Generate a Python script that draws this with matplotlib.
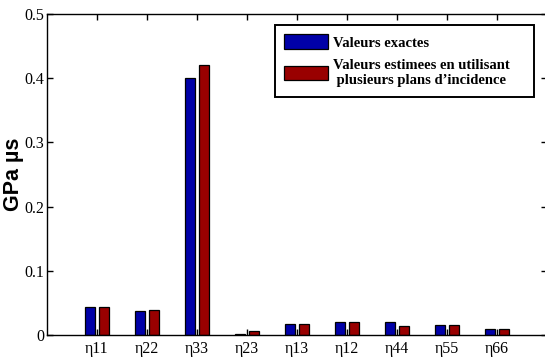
import numpy as np
import matplotlib
matplotlib.use("Agg")
import matplotlib.pyplot as plt


labels = ["η11", "η22", "η33", "η23", "η13", "η12", "η44", "η55", "η66"]
exact = [0.043, 0.037, 0.400, 0.0015, 0.0165, 0.021, 0.020, 0.015, 0.0093]
estimated = [0.043, 0.039, 0.420, 0.007, 0.0165, 0.021, 0.0135, 0.015, 0.0093]
yticks = [0, 0.1, 0.2, 0.3, 0.4, 0.5]
ytick_labels = ["0", "0.1", "0.2", "0.3", "0.4", "0.5"]


def main():
    fig = plt.figure(figsize=(5.45, 3.58), dpi=100)
    ax = fig.add_axes([47 / 545, 23 / 358, 500 / 545, 321 / 358])

    x = np.arange(1, len(labels) + 1)
    w = 0.19
    ax.bar(x - 0.14, exact, w, color="#0000a8", edgecolor="black", linewidth=0.9,
           label="Valeurs exactes")
    ax.bar(x + 0.14, estimated, w, color="#990000", edgecolor="black", linewidth=0.9,
           label="Valeurs estimees en utilisant\n plusieurs plans d\u2019incidence")

    ax.set_xlim(0, 10)
    ax.set_ylim(0, 0.5)
    ax.set_xticks(x)
    ax.set_xticklabels(labels, family="Liberation Serif", fontsize=11.5)
    ax.set_yticks(yticks)
    ax.set_yticklabels(ytick_labels, family="Liberation Serif", fontsize=11.5)
    ax.tick_params(direction="in", top=True, right=True, length=4, width=1,
                   pad=2)
    ax.tick_params(axis="x", pad=4)
    for s in ax.spines.values():
        s.set_linewidth(1.0)

    ax.set_ylabel("GPa \u00b5s", family="Liberation Sans", fontweight="bold",
                  fontsize=15.5)
    ax.yaxis.set_label_coords(-0.045, 0.5)

    # legend box spans x 275..534, top at y 25 in the reference
    leg = ax.legend(loc="upper left",
                    bbox_to_anchor=(275 / 545, 0, 259 / 545, 1 - 25 / 358),
                    bbox_transform=fig.transFigure, mode="expand", borderaxespad=0,
                    fancybox=False, framealpha=1, edgecolor="black",
                    prop={"family": "Liberation Serif", "weight": "bold", "size": 10.5},
                    handlelength=3.0, handleheight=1.15, handletextpad=0.3,
                    labelspacing=0.65, borderpad=0.65)
    leg.get_frame().set_linewidth(1.4)

    fig.savefig("out.png", dpi=100)


if __name__ == "__main__":
    main()
